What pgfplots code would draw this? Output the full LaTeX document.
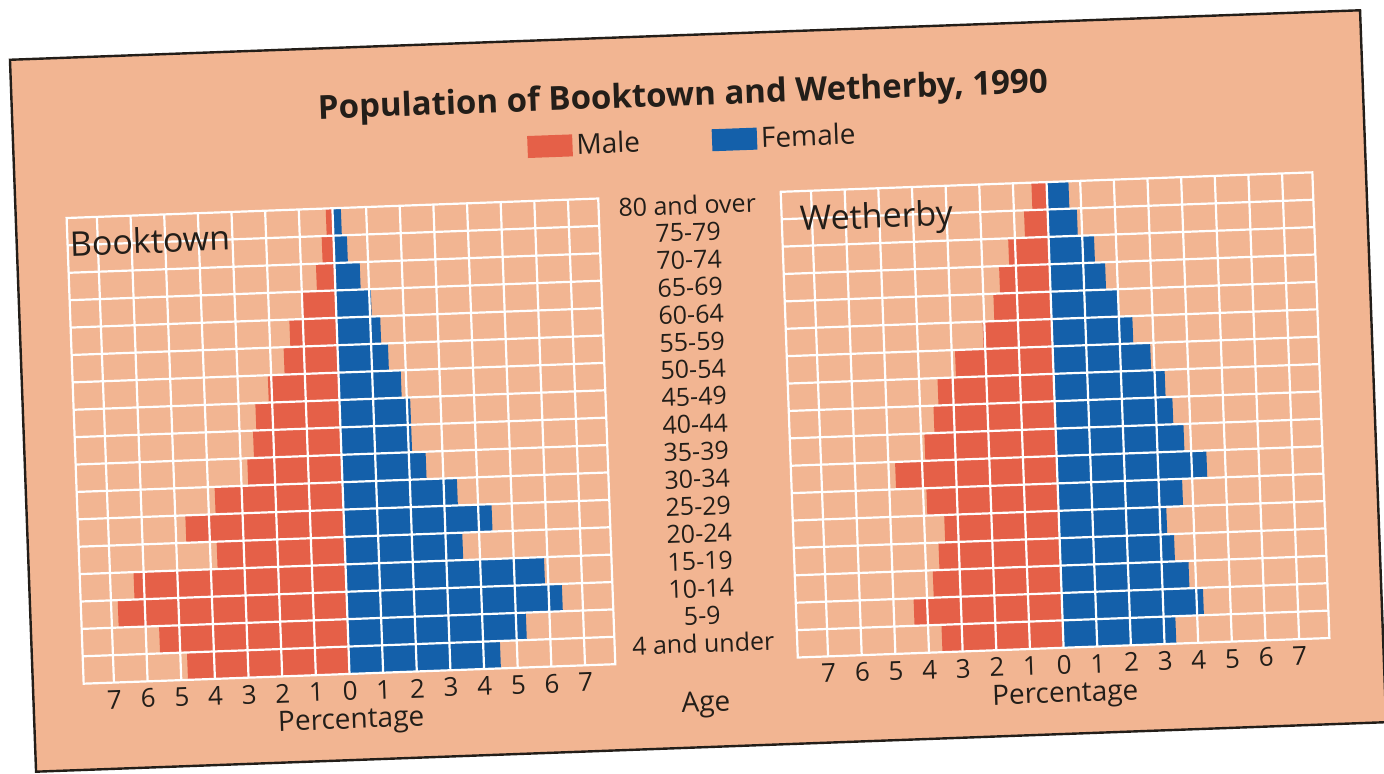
\documentclass[border=0pt]{standalone}
\usepackage{pgfplots}
\pgfplotsset{compat=1.18}
\usepackage{fontspec}
\setmainfont{Open Sans}
\definecolor{peach}{RGB}{242,181,146}
\definecolor{malec}{RGB}{229,96,72}
\definecolor{femc}{RGB}{20,96,170}
\definecolor{ink}{RGB}{35,30,25}

% Age groups: y = 0 (4 and under) ... 16 (80 and over)
\pgfplotstableread{
y  bm     bf    wm     wf
16 -0.20  0.25  -0.45  0.65
15 -0.35  0.40  -0.70  0.87
14 -0.55  0.75  -1.20  1.35
13 -1.00  1.05  -1.50  1.65
12 -1.40  1.30  -1.70  2.00
11 -1.60  1.50  -2.05  2.40
10 -2.10  1.85  -2.90  2.90
9  -2.50  2.10  -3.45  3.30
8  -2.60  2.10  -3.60  3.50
7  -2.80  2.50  -3.90  3.80
6  -3.80  3.40  -4.80  4.45
5  -4.70  4.40  -3.90  3.70
4  -3.80  3.50  -3.40  3.20
3  -6.30  5.90  -3.60  3.40
2  -6.80  6.40  -3.80  3.80
1  -5.60  5.30  -4.40  4.20
0  -4.80  4.50  -3.60  3.35
}\pyrdata

\pgfplotsset{pyr/.style={
  scale only axis, width=266pt, height=233pt,
  xmin=-7.9, xmax=7.9, ymin=-0.5, ymax=16.5,
  xtick={-7,...,7}, xticklabels={7,6,5,4,3,2,1,0,1,2,3,4,5,6,7},
  ytick={0,...,16},
  minor ytick={0.5,1.5,...,15.5},
  xmajorgrids, yminorgrids, ymajorgrids=false,
  major grid style={white, line width=1.1pt},
  minor grid style={white, line width=1.1pt},
  axis line style={white, line width=1.1pt},
  major tick length=0pt, minor tick length=0pt,
  tick style={draw=none},
  axis on top,
  xlabel={Percentage},
  xticklabel style={font=\fontsize{13}{14}\selectfont, text=ink, anchor=center, inner sep=0.5pt, yshift=-8.5pt},
  xlabel style={font=\fontsize{14}{16}\selectfont, text=ink, inner sep=0.5pt, at={(axis description cs:0.5,0)}, anchor=center, yshift=-24pt},
}}

\begin{document}
\begin{tikzpicture}
\useasboundingbox (0,0) rectangle (692pt,386.5pt);
\fill[white] (0,0) rectangle (692pt,386.5pt);
\begin{scope}[transform canvas={rotate around={2.1:(346pt,193pt)}}]
\fill[peach] (11.2pt,12.8pt) rectangle (686.7pt,369pt);
\draw[ink, line width=1.2pt] (11.2pt,12.8pt) rectangle (686.7pt,369pt);

\begin{axis}[pyr, at={(36.6pt,55.9pt)}, anchor=south west, yticklabels={},
  legend style={at={(1.183,1.116)}, anchor=center, draw=none, fill=none,
    legend columns=2, font=\fontsize{14}{16}\selectfont, text=ink,
    /tikz/every even column/.append style={column sep=34pt}}]
\addplot[xbar, bar width=1, bar shift=0pt, fill=malec, draw=none,
  legend image code/.code={\fill[malec] (0pt,-5.5pt) rectangle (22.5pt,5.5pt);}]
  table[x=bm, y=y] {\pyrdata};
\addlegendentry{Male}
\addplot[xbar, bar width=1, bar shift=0pt, fill=femc, draw=none,
  legend image code/.code={\fill[femc] (0pt,-5.5pt) rectangle (22.5pt,5.5pt);}]
  table[x=bf, y=y] {\pyrdata};
\addlegendentry{Female}
\end{axis}

\begin{axis}[pyr, at={(393.9pt,55.9pt)}, anchor=south west,
  yticklabels={4 and under,5-9,10-14,15-19,20-24,25-29,30-34,35-39,40-44,45-49,50-54,55-59,60-64,65-69,70-74,75-79,80 and over},
  yticklabel style={font=\fontsize{12.5}{14}\selectfont, text=ink, anchor=center, inner sep=1pt, xshift=-47pt, yshift=2pt}]
\addplot[xbar, bar width=1, bar shift=0pt, fill=malec, draw=none]
  table[x=wm, y=y] {\pyrdata};
\addplot[xbar, bar width=1, bar shift=0pt, fill=femc, draw=none]
  table[x=wf, y=y] {\pyrdata};
\end{axis}

\node[font=\bfseries\fontsize{16.5}{19}\selectfont, text=ink] at (346.8pt,338pt) {Population of Booktown and Wetherby, 1990};
\node[font=\fontsize{17}{20}\selectfont, text=ink, anchor=base west, inner sep=0pt] at (37.6pt,269.8pt) {Booktown};
\node[font=\fontsize{17}{20}\selectfont, text=ink, anchor=base west, inner sep=0pt] at (402.8pt,269pt) {Wetherby};
\node[font=\fontsize{14}{16}\selectfont, text=ink] at (347.2pt,33.9pt) {Age};
\end{scope}
\end{tikzpicture}
\end{document}
